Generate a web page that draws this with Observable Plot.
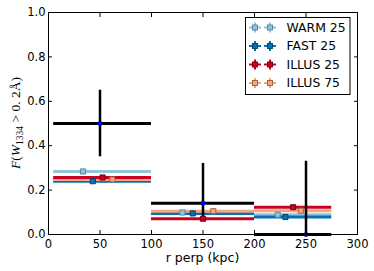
<!DOCTYPE html>
<html>
<head>
<meta charset="utf-8">
<script src="https://cdn.jsdelivr.net/npm/d3@7"></script>
<script src="https://cdn.jsdelivr.net/npm/@observablehq/plot@0.6"></script>
<style>
  html, body { margin: 0; padding: 0; background: #fff; }
</style>
</head>
<body>
<div id="chart"></div>
<script>
// ---- data ----
const binLo = [5, 100, 200];
const binHi = [100, 200, 275];

const obsX  = [50, 150, 250];
const obsY  = [0.50, 0.141, 0.0];
const obsLo = [0.35, 0.06, 0.0];
const obsHi = [0.65, 0.32, 0.33];

const seriesNames  = ["WARM 25", "FAST 25", "ILLUS 25", "ILLUS 75"];
const seriesColors = ["#92c5de", "#0571b0", "#ca0020", "#f4a582"];
const seriesEdges  = ["#4f7f99", "#033d63", "#6e0012", "#9c5a3c"];

const warmX    = [33.5, 130, 222.5];
const warmY    = [0.284, 0.099, 0.089];
const fastX    = [43, 140, 230];
const fastY    = [0.240, 0.095, 0.079];
const illus25X = [52.5, 150, 237.5];
const illus25Y = [0.257, 0.071, 0.123];
const illus75X = [62, 160, 245];
const illus75Y = [0.248, 0.105, 0.107];

const xTicks = [0, 50, 100, 150, 200, 250, 300];
const yTicks = [0.0, 0.2, 0.4, 0.6, 0.8, 1.0];

// ---- build tables ----
const seriesX = [warmX, fastX, illus25X, illus75X];
const seriesY = [warmY, fastY, illus25Y, illus75Y];
const models = [];
seriesNames.forEach((name, s) => {
  seriesY[s].forEach((y, b) => {
    models.push({series: name, s, bin: b, lo: binLo[b], hi: binHi[b], x: seriesX[s][b], y});
  });
});
// drawing order of lines: WARM, FAST, ILLUS 75, ILLUS 25
const lineOrder = [0, 1, 3, 2];
const modelsOrdered = lineOrder.flatMap(s => models.filter(d => d.s === s));
const obs = obsX.map((x, i) => ({x, y: obsY[i], lo: obsLo[i], hi: obsHi[i], x1: binLo[i], x2: binHi[i]}));

const colorScale = {domain: seriesNames, range: seriesColors};
const edgeOf = name => seriesEdges[seriesNames.indexOf(name)];

const W = 374, H = 271;
const plot = Plot.plot({
  width: W,
  height: H,
  marginLeft: 48,
  marginRight: 17,
  marginTop: 12,
  marginBottom: 37,
  style: {fontFamily: "DejaVu Sans", fontSize: "11.5px", background: "white", color: "black"},
  x: {domain: [0, 300], ticks: xTicks},
  y: {domain: [0, 1], ticks: yTicks},
  color: colorScale,
  marks: [
    // model bin lines
    Plot.ruleY(modelsOrdered, {y: "y", x1: "lo", x2: "hi", stroke: "series", strokeWidth: 3}),
    // observations
    Plot.ruleY(obs, {y: "y", x1: "x1", x2: "x2", stroke: "black", strokeWidth: 3}),
    Plot.ruleX(obs, {x: "x", y1: "lo", y2: "hi", stroke: "black", strokeWidth: 2.5}),
    // model markers
    Plot.dot(models, {x: "x", y: "y", symbol: "square", r: 2.9, fill: "series", stroke: d => edgeOf(d.series), strokeWidth: 0.9}),
    Plot.dot(obs, {x: "x", y: "y", r: 2.2, fill: "#0000ff", stroke: "#0000aa", strokeWidth: 0.5}),
    Plot.frame({stroke: "black", strokeWidth: 1}),
    Plot.axisX({anchor: "bottom", ticks: xTicks, tickSize: -4, tickPadding: 9, label: null, tickFormat: d => String(d)}),
    Plot.axisX({anchor: "top", ticks: xTicks, tickSize: -4, label: null, tickFormat: () => ""}),
    Plot.axisY({anchor: "left", ticks: yTicks, tickSize: -4, tickPadding: 7, label: null, tickFormat: d3.format(".1f")}),
    Plot.axisY({anchor: "right", ticks: yTicks, tickSize: -4, label: null, tickFormat: () => ""})
  ]
});

document.getElementById("chart").appendChild(plot);

// ---- extra text and legend ----
const svg = d3.select(plot);
const g = svg.append("g").attr("text-anchor", "start");

// x label
g.append("text")
  .attr("x", 202.5).attr("y", 262)
  .attr("text-anchor", "middle")
  .attr("font-family", "DejaVu Sans").attr("font-size", "12.5px")
  .attr("fill", "black")
  .text("r perp (kpc)");

// y label (math style)
const yl = g.append("text")
  .attr("transform", "translate(20,123) rotate(-90)")
  .attr("text-anchor", "middle")
  .attr("font-family", "Liberation Serif").attr("font-size", "13.5px")
  .attr("fill", "black");
yl.append("tspan").attr("font-style", "italic").text("F");
yl.append("tspan").text("(");
yl.append("tspan").attr("font-style", "italic").text("W");
yl.append("tspan").attr("font-size", "9.5px").attr("dy", "3").text("1334");
yl.append("tspan").attr("dy", "-3").text(" > 0. 2Å)");

// legend
const lg = g.append("g");
lg.append("rect")
  .attr("x", 245.5).attr("y", 17.5).attr("width", 104.5).attr("height", 77)
  .attr("fill", "white").attr("stroke", "black").attr("stroke-width", 1);
const rowY = [27.5, 46, 64.5, 83];
seriesNames.forEach((name, i) => {
  const y = rowY[i];
  [255, 270].forEach(cx => {
    lg.append("line").attr("x1", cx - 6).attr("x2", cx + 6).attr("y1", y).attr("y2", y)
      .attr("stroke", seriesColors[i]).attr("stroke-width", 2);
    lg.append("line").attr("x1", cx).attr("x2", cx).attr("y1", y - 5).attr("y2", y + 5)
      .attr("stroke", seriesColors[i]).attr("stroke-width", 2);
    lg.append("rect").attr("x", cx - 2.5).attr("y", y - 2.5).attr("width", 5).attr("height", 5)
      .attr("fill", seriesColors[i]).attr("stroke", seriesEdges[i]).attr("stroke-width", 0.9);
  });
  lg.append("text")
    .attr("x", 286.5).attr("y", y).attr("dy", "0.36em")
    .attr("text-anchor", "start")
    .attr("font-family", "DejaVu Sans").attr("font-size", "12.4px")
    .attr("fill", "black")
    .text(name);
});
</script>
</body>
</html>
